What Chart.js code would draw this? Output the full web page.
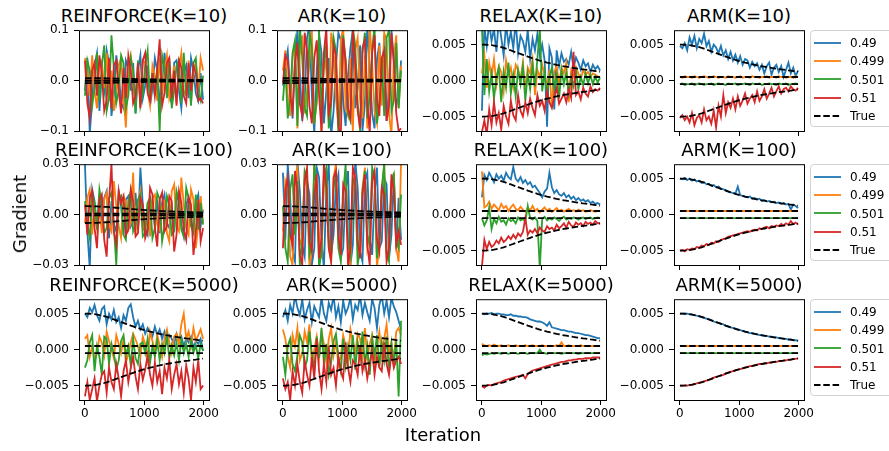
<!DOCTYPE html>
<html><head><meta charset="utf-8">
<script src="https://cdn.jsdelivr.net/npm/chart.js@4.4.1/dist/chart.umd.min.js"></script>
<style>
html,body{margin:0;padding:0;background:#fff;}
body{width:889px;height:451px;overflow:hidden;position:relative;font-family:"DejaVu Sans",sans-serif;color:#000;}
canvas{position:absolute;}
.ttl{position:absolute;font-size:18px;line-height:18px;white-space:nowrap;transform:translateX(-50%);}
.axl{position:absolute;font-size:18px;line-height:18px;white-space:nowrap;}
.leg{position:absolute;box-sizing:border-box;border:1px solid #d3d3d3;border-radius:4px;background:rgba(255,255,255,0.8);}
.lt{position:absolute;font-size:12px;line-height:14px;white-space:nowrap;}
.ls{position:absolute;}
</style>
</head><body>
<script>
// ---------------- data ----------------
const METHODS = ['REINFORCE', 'AR', 'RELAX', 'ARM'];
const KS = [10, 100, 5000];
const SERIES_LABELS = ['0.49', '0.499', '0.501', '0.51'];
const TRUE_LABEL = 'True';
const X_TICKS = [0, 1000, 2000];
const Y_TICKS_K10_WIDE = [-0.1, 0, 0.1];
const Y_TICKS_K100_WIDE = [-0.03, 0, 0.03];
const Y_TICKS_NARROW = [-0.005, 0, 0.005];
const N_POINTS = 50;
const LAST_ITER = 1990;

// true gradients (units of 1e-4)
const TRUE_049 = [50,49.9,49.8,49.6,49.2,48.7,48,47.3,46.4,45.4,44.3,43.1,41.9,40.7,39.4,38.2,37,35.8,34.6,33.3,32.2,31,30,28.9,27.9,27,26,25.1,24.3,23.4,22.7,21.9,21.2,20.5,19.9,19.3,18.7,18.2,17.6,17.1,16.6,16.1,15.6,15.2,14.7,14.2,13.8,13.3,12.9,12.4];
const TRUE_051 = [-50,-49.9,-49.8,-49.6,-49.2,-48.7,-48,-47.3,-46.4,-45.4,-44.3,-43.1,-41.9,-40.7,-39.4,-38.2,-37,-35.8,-34.6,-33.3,-32.2,-31,-30,-28.9,-27.9,-27,-26,-25.1,-24.3,-23.4,-22.7,-21.9,-21.2,-20.5,-19.9,-19.3,-18.7,-18.2,-17.6,-17.1,-16.6,-16.1,-15.6,-15.2,-14.7,-14.2,-13.8,-13.3,-12.9,-12.4];
const TRUE_0499 = 5;
const TRUE_0501 = -5;

// estimates: [0.49, 0.499, 0.501, 0.51]
// units of 1e-3
const REINFORCE_K10 = [
 [-20,45,-105,-40,30,55,-60,10,-20,60, 35,-70,-30,50,15,-45,-55,40,25,-20, 35,-65,20,50,-35,-10,30,-50,-15,45, 20,-40,-25,55,10,-30,-45,35,40,-20, -55,15,30,-35,45,20,-25,-40,15,-38],
 [45,20,-30,50,-20,-55,35,40,-15,55, -40,20,-60,-25,30,45,-35,-93,25,50, 10,-45,15,-30,40,35,-20,-50,30,10, -40,45,-25,20,50,-35,-15,30,-45,25, 55,-20,-30,40,-45,20,35,-25,45,20],
 [-30,40,20,-50,-15,55,-40,30,70,-60, -35,90,25,-45,-20,50,35,-55,-30,45, 20,-65,40,-50,-25,30,60,-40,15,-30, 25,-100,50,25,-35,45,-55,-20,30,40, -45,55,-30,20,-50,35,45,-25,-40,10],
 [40,-45,-75,20,35,-30,50,15,-60,-40, 45,-55,30,40,-20,-65,25,-35,50,20, -45,-30,35,-55,40,55,-25,-40,15,-30, 20,82,-50,-25,35,45,-35,20,-50,40, 25,-30,-45,35,-20,30,15,-40,-35,-45]
];
const AR_K10 = [
 [-10,35,60,-20,-75,40,100,15,-80,-40, 85,110,-30,-105,20,90,55,-85,-20,45, -110,-60,30,95,80,-40,-90,10,65,100, -55,-15,70,-100,-45,110,25,-65,-95,40, 75,-30,90,-80,-10,100,35,-50,-30,40],
 [20,60,-30,-70,45,75,-95,50,90,-65, -20,40,100,-85,-45,70,-110,55,20,-80, 95,65,-35,-90,80,105,-55,-70,45,-100, 60,85,-40,-75,50,-95,110,35,-60,-85, 70,-50,95,80,-65,-110,45,90,-55,30],
 [-40,25,-75,-35,55,80,-90,110,45,-55, -70,95,65,-85,-40,100,-60,30,75,-95, -50,85,60,-110,-35,90,40,-65,-80,105, 70,-45,-100,55,95,-75,-30,60,110,-85, -50,45,-70,85,100,-60,-40,75,-55,20],
 [-5,50,40,-30,-60,35,75,-45,-70,95, 60,-50,-85,45,80,-30,-100,55,105,-65, -40,70,50,-90,-110,85,40,-55,-75,100, 35,-60,-95,65,80,-45,-105,55,90,-35, -70,45,60,-80,-50,95,40,-65,-100,-95]
];
const REINFORCE_K100 = [
 [30,-10,-32,15,8,-8,12,-5,10,14, -14,8,-6,-10,14,5,-12,9,11,-7, -4,13,-9,28,6,-8,-12,10,5,-6, 9,-11,7,12,-5,-8,4,-10,11,8, -6,-13,6,10,-4,-9,7,12,-7,3],
 [-5,10,15,-12,6,-8,4,-11,9,13, -6,-10,20,5,-7,-14,11,8,-9,-5, 25,-12,6,14,-8,-10,7,-13,10,12, -6,-9,5,8,-11,-16,14,18,-7,-10, 22,6,-8,-12,15,9,-20,-6,11,-5],
 [8,-6,-14,12,7,-9,15,6,-11,-8, 10,13,-7,-30,9,11,-12,-15,8,14, -10,-6,9,12,-13,-11,7,10,-14,-8, 13,9,-16,-7,11,6,-12,-10,14,8, -9,-13,16,10,-7,-11,12,-9,7,-6],
 [6,-12,10,14,-8,-20,9,12,-15,-25, 8,30,-10,-18,14,7,11,-12,-9,15, 8,-13,-11,10,6,-14,-9,16,12,-8, -19,9,13,-10,-7,11,8,-22,-12,14, 7,-9,-15,10,6,-24,-11,9,-16,-8]
];
const AR_K100 = [
 [25,-15,30,10,-22,-28,32,14,-18,-25, 20,12,-30,-20,28,22,-16,-32,15,30, -24,-12,18,24,-26,-20,14,26,-30,-18, 32,16,-22,-28,20,25,-14,-24,12,28, -20,-16,22,18,-26,-12,24,-20,10,-15],
 [-10,20,15,-25,-30,22,28,-18,-14,24, 16,-32,-22,30,18,-12,-26,24,14,-20, -28,22,30,-16,-24,12,26,-20,-30,18, 22,-14,-26,16,28,-20,-12,24,20,-32, -18,14,30,-24,-22,16,25,-20,-28,32],
 [5,-20,-28,15,24,-12,20,-30,-16,26, 22,-24,-18,30,14,-32,-22,20,28,-14, -26,16,24,-20,-28,12,30,-16,-24,22, 18,-30,-20,14,26,-12,-18,28,22,-26, -14,16,30,-22,-28,20,24,-16,-20,12],
 [-20,15,22,-12,-18,26,14,-24,-30,20, 28,-16,-22,12,24,-26,-14,30,16,-20, -28,22,26,-12,-24,18,14,-30,-20,28, 22,-16,-26,12,24,-18,-30,20,26,-14, -22,16,12,-28,-20,24,14,-18,-10,-18]
];
// units of 1e-4
const RELAX_K10 = [
 [-42,75,48,80,55,72,40,85,60,35, 78,50,68,45,82,38,62,55,40,70, 30,58,42,65,35,50,28,-64,45,32, -40,42,20,38,26,30,22,40,18,32, 25,15,28,20,24,12,22,16,20,14],
 [10,35,-10,25,5,30,-5,20,12,-15, 28,8,18,-8,22,15,2,25,-12,18, 10,30,-20,15,5,22,8,-10,15,-38, 12,20,-5,18,10,25,-30,14,6,18, 10,2,15,8,12,5,10,8,6,5],
 [75,-20,30,-15,10,-25,5,18,-30,12, -10,25,-18,8,-22,15,-5,20,-28,10, -12,22,-8,30,72,-15,12,-20,5,18, -10,8,-25,15,-5,12,-18,6,-8,14, -12,5,-6,10,-4,8,-5,6,-3,4],
 [-72,-55,-75,-40,-62,-30,-58,-45,-68,-35, -50,-60,-28,-48,-55,-20,-42,-50,-30,-45, -25,-38,-48,-20,-35,-28,-42,-15,-30,-38, -22,-10,-32,-25,-18,-30,-12,-24,40,-20, -15,-26,-10,-18,-22,-8,-16,-12,-14,-10]
];
const ARM_K10 = [
 [48,45,52,42,60,50,62,45,58,52, 65,48,55,40,50,46,38,48,35,42, 30,40,28,36,25,34,22,30,28,18, 26,20,24,15,22,10,20,25,8,18, 22,12,20,5,15,25,10,18,6,14],
 [5,4,6,5,5,4,6,5,4,5, 6,5,4,5,6,5,4,5,5,4, 6,5,5,4,5,6,4,5,5,4, 6,5,5,4,5,5,6,4,5,5, 4,6,5,5,4,5,5,4,6,5],
 [-5,-4,-6,-5,-5,-4,-6,-5,-4,-5, -6,-5,-5,-4,-6,-5,-4,-5,-5,-6, -4,-5,-5,-4,-6,-5,-5,-4,-5,-6, -4,-5,-5,-4,-6,-5,-5,-4,-5,-5, -6,-4,-5,-5,-4,-6,-5,-5,-4,-5],
 [-52,-48,-55,-50,-58,-45,-62,-52,-48,-58, -40,-55,-50,-60,-42,-65,-35,-50,-20,-45, -30,-38,-25,-40,-22,-35,-28,-18,-32,-25, -20,-30,-15,-28,-22,-12,-25,-18,-10,-22, -15,-8,-18,-12,-10,-15,-8,-12,-14,-10]
];
const RELAX_K100 = [
 [24,55,48,58,52,45,56,50,54,47, 58,52,49,66,50,46,52,44,48,42, 45,38,40,35,30,24,32,36,58,38, 30,34,28,26,30,24,27,22,25,20, 23,19,21,18,20,16,18,15,16,14],
 [60,10,12,18,8,14,10,6,15,9, 12,5,10,14,8,6,11,7,4,9, 6,12,5,8,3,7,10,5,8,4, 6,9,5,7,4,6,8,5,6,4, 7,5,6,4,5,6,5,4,5,5],
 [-5,-15,-8,10,-20,-6,-12,-3,-10,-8, -14,-5,-9,-7,-12,-4,-8,-6,-10,12, -5,-7,-4,-9,-75,-6,-3,-8,-5,-7, -4,-6,-9,-5,-3,-7,-5,-6,-4,-5, -7,-5,-4,-6,-5,-4,-6,-5,-4,-5],
 [-72,-35,-48,-38,-45,-42,-36,-40,-32,-38, -35,-30,-34,-28,-33,-26,-30,-24,-5,-28, -22,-25,-20,-26,-18,-22,-24,-16,-20,-18, -22,-14,-19,-16,-12,-18,-10,-15,-17,-11, -14,-12,-16,-10,-13,-11,-14,-9,-12,-12]
];
const ARM_K100 = [
 [50,49,51,48,50,47,49,46,47,44, 45,42,43,40,41,38,39,36,35,34, 32,31,30,29,39,27,26,25,24,25, 22,23,21,22,19,20,18,19,17,18, 16,17,15,16,14,15,7,14,12,9],
 [5,5,5,5,5,5,5,5,5,5, 5,5,5,5,5,5,5,5,5,5, 5,5,5,5,5,5,5,5,5,5, 5,5,5,5,5,5,5,5,5,5, 5,5,5,5,5,5,5,5,5,5],
 [-5,-5,-5,-5,-5,-5,-5,-5,-5,-5, -5,-5,-5,-5,-5,-5,-5,-5,-5,-5, -5,-5,-5,-5,-5,-5,-5,-5,-5,-5, -5,-5,-5,-5,-5,-5,-5,-5,-5,-5, -5,-5,-5,-5,-5,-5,-5,-5,-5,-5],
 [-50,-49,-51,-48,-49,-47,-48,-45,-46,-43, -44,-41,-42,-39,-40,-37,-38,-35,-34,-33, -31,-30,-29,-28,-27,-26,-25,-24,-23,-24, -22,-21,-22,-19,-20,-18,-17,-19,-16,-17, -15,-16,-13,-15,-12,-14,-9,-13,-11,-14]
];
const REINFORCE_K5000 = [
 [50,45,58,52,62,48,40,56,60,35, 50,42,55,38,45,30,48,40,58,63, 45,32,40,28,35,22,30,25,18,32, 20,28,15,25,10,20,15,8,22,12, 18,5,15,10,18,2,12,8,15,-2],
 [15,20,-10,5,-15,-5,18,10,-8,25, 12,0,-12,20,8,-5,15,-18,-6,10, 22,14,5,-10,18,8,-14,25,12,-4, 20,6,-10,15,28,10,-5,18,22,8, 35,50,15,25,5,30,12,20,28,15],
 [-25,-15,10,20,-30,5,-10,-35,18,15, -20,8,-5,-28,-15,12,20,-8,5,-22, 15,-12,-20,8,10,-5,15,-18,5,-10, 12,-15,8,-5,18,-12,6,-8,10,-15, 14,-5,8,-10,12,-4,6,-12,8,-2],
 [-65,-45,-70,-55,-40,-72,-50,-35,-30,-60, -25,-45,-55,-20,-40,-65,-30,-15,-45,-25, -10,-38,-55,-20,-42,-28,-8,-35,-50,-18, -45,-30,-62,-25,-40,-15,-55,-35,-20,-48, -30,-60,-22,-40,-70,-25,-45,-15,-55,-50]
];
const AR_K5000 = [
 [45,55,40,62,50,75,58,48,70,42, 55,65,38,60,52,45,72,50,40,65, 55,75,45,60,38,68,50,58,72,42, 62,55,75,48,65,52,40,70,58,30, 62,75,50,68,45,72,60,52,40,28],
 [28,15,-10,-25,20,5,30,-15,-5,25, 10,35,-20,0,18,-12,25,8,-18,15, 30,-8,12,-22,-10,20,5,-15,28,10, -5,22,15,-10,30,-12,8,20,-18,5, 25,-8,15,35,-5,10,-15,25,30,20],
 [-10,-35,5,15,-20,-30,-8,20,10,-25, -15,25,-5,-28,18,-12,30,-20,8,-35, -18,12,22,-10,-30,15,-22,5,-15,20, -28,10,-12,25,-20,5,-35,15,-8,20, -25,10,-15,18,-30,8,-20,12,-65,40],
 [-40,-55,-45,-70,-30,-50,-20,-45,-60,-15, -35,-50,-10,-40,15,-30,-55,-20,-45,5, -35,-25,-50,-10,-30,-40,10,-25,-45,-15, -20,-35,5,-30,-15,-40,-20,0,-35,-10, -25,-30,10,-20,-35,-5,-25,-15,-10,-20]
];
const RELAX_K5000 = [
 [50,49,50,50,51,49,50,50,49,49, 48,48,49,47,47,46,46,45,45,44, 42,41,40,39,39,38,36,33,38,31, 30,29,28,27,27,26,25,25,24,23, 23,22,21,20,20,19,18,17,16,16],
 [8,6,5,6,5,7,5,5,6,5, 5,6,5,5,6,5,5,5,6,5, 5,6,5,5,5,6,5,5,5,5, 5,6,5,10,5,5,6,5,5,5, 5,6,5,5,5,5,5,5,5,5],
 [-8,-6,-7,-6,-5,-6,-5,-5,-6,-5, -5,-6,-5,-5,-5,-6,-5,-5,-5,-6, -5,-5,-5,-5,0,-5,-5,-6,-5,-5, -5,-5,-5,-6,-5,-5,-5,-5,-5,-5, -6,-5,-5,-5,-5,-5,-5,-5,-5,-5],
 [-51,-53,-50,-49,-50,-48,-47,-46,-45,-43, -42,-41,-40,-39,-38,-37,-36,-35,-40,-34, -31,-29,-28,-27,-26,-25,-24,-23,-22,-21, -20,-19,-18,-17,-17,-16,-15,-15,-14,-14, -13,-13,-13,-12,-12,-12,-11,-11,-11,-11]
];
const ARM_K5000 = [
 [50,50,50,50,49,49,48,47,46,45, 44,43,42,41,39,38,37,36,35,33, 32,31,30,29,28,27,26,25,24,23, 23,22,21,20,20,19,19,18,18,17, 17,16,16,15,15,14,14,13,13,12],
 [5,5,5,5,5,5,5,5,5,5, 5,5,5,5,5,5,5,5,5,5, 5,5,5,5,5,5,5,5,5,5, 5,5,5,5,5,5,5,5,5,5, 5,5,5,5,5,5,5,5,5,5],
 [-5,-5,-5,-5,-5,-5,-5,-5,-5,-5, -5,-5,-5,-5,-5,-5,-5,-5,-5,-5, -5,-5,-5,-5,-5,-5,-5,-5,-5,-5, -5,-5,-5,-5,-5,-5,-5,-5,-5,-5, -5,-5,-5,-5,-5,-5,-5,-5,-5,-5],
 [-50,-50,-50,-50,-49,-49,-48,-47,-46,-45, -44,-43,-42,-41,-39,-38,-37,-36,-35,-33, -32,-31,-30,-29,-28,-27,-26,-25,-24,-23, -23,-22,-21,-20,-20,-19,-19,-18,-18,-17, -17,-16,-16,-15,-15,-14,-14,-13,-13,-12]
];

const PANEL_DATA = [
  REINFORCE_K10, AR_K10, RELAX_K10, ARM_K10,
  REINFORCE_K100, AR_K100, RELAX_K100, ARM_K100,
  REINFORCE_K5000, AR_K5000, RELAX_K5000, ARM_K5000
];
const PANEL_UNIT = [1e-3,1e-3,1e-4,1e-4, 1e-3,1e-3,1e-4,1e-4, 1e-4,1e-4,1e-4,1e-4];
const PANEL_YTICKS = [
  Y_TICKS_K10_WIDE, Y_TICKS_K10_WIDE, Y_TICKS_NARROW, Y_TICKS_NARROW,
  Y_TICKS_K100_WIDE, Y_TICKS_K100_WIDE, Y_TICKS_NARROW, Y_TICKS_NARROW,
  Y_TICKS_NARROW, Y_TICKS_NARROW, Y_TICKS_NARROW, Y_TICKS_NARROW
];
const PANEL_YLIM = [0.1,0.1,0.007,0.007, 0.03,0.03,0.007,0.007, 0.007,0.007,0.007,0.007];
const PANEL_DECIMALS = [1,1,3,3, 2,2,3,3, 3,3,3,3];

// ---------------- layout & style ----------------
const COLORS = ['#1f77b4', '#ff7f0e', '#2ca02c', '#d62728'];
const FONT = '"DejaVu Sans", sans-serif';
const PLOT_LEFT = [79, 277, 476, 674];
const PLOT_TOP = [28, 162, 297];
const PLOT_W = 130, PLOT_H = 103;
const AX_W = 60, PAD_T = 10, PAD_R = 22, AX_H = 30;
const LW = 1.8, DASH = [6.5, 2.8];

const ITERATIONS = Array.from({length: N_POINTS}, (_, i) => Math.round(i * LAST_ITER / (N_POINTS - 1)));

function fmt(v, d) {
  const s = Math.abs(v).toFixed(d);
  return (v < 0 ? '\u2212' : '') + s;
}

const framePlugin = {
  id: 'frame',
  afterDraw(chart) {
    const {ctx, chartArea: a} = chart;
    ctx.save();
    ctx.strokeStyle = '#000';
    ctx.lineWidth = 1;
    ctx.strokeRect(a.left + 0.5, a.top + 0.5, a.right - a.left, a.bottom - a.top);
    ctx.restore();
  }
};

function pts(vals, unit) { return vals.map((v, i) => ({x: ITERATIONS[i], y: v * unit})); }

function addText(cls, text, left, top, extra) {
  const d = document.createElement('div');
  d.className = cls;
  d.textContent = text;
  d.style.left = left + 'px';
  d.style.top = top + 'px';
  if (extra) Object.assign(d.style, extra);
  document.body.appendChild(d);
  return d;
}

for (let r = 0; r < 3; r++) {
  for (let c = 0; c < 4; c++) {
    const p = r * 4 + c;
    const L = PLOT_LEFT[c], T = PLOT_TOP[r];
    addText('ttl', METHODS[c] + '(K=' + KS[r] + ')', L + PLOT_W / 2, T - 21);
    const cv = document.createElement('canvas');
    const W = AX_W + PLOT_W + PAD_R, H = PAD_T + PLOT_H + AX_H;
    cv.width = W; cv.height = H;
    cv.style.left = (L - AX_W) + 'px';
    cv.style.top = (T - PAD_T) + 'px';
    cv.style.width = W + 'px'; cv.style.height = H + 'px';
    document.body.appendChild(cv);

    const unit = PANEL_UNIT[p];
    const series = PANEL_DATA[p];
    const datasets = [];
    const first = ITERATIONS[0], last = ITERATIONS[N_POINTS - 1];
    const trueSets = [
      pts(TRUE_049, 1e-4),
      [{x: first, y: TRUE_0499 * 1e-4}, {x: last, y: TRUE_0499 * 1e-4}],
      [{x: first, y: TRUE_0501 * 1e-4}, {x: last, y: TRUE_0501 * 1e-4}],
      pts(TRUE_051, 1e-4)
    ];
    trueSets.forEach(d => datasets.push({
      label: TRUE_LABEL, data: d, borderColor: '#000', borderWidth: LW, borderDash: DASH,
      pointRadius: 0, fill: false, tension: 0, order: 0, clip: 0
    }));
    for (let s = 0; s < 4; s++) {
      datasets.push({
        label: SERIES_LABELS[s], data: pts(series[s], unit), borderColor: COLORS[s],
        borderWidth: LW, pointRadius: 0, fill: false, tension: 0, order: 4 - s, clip: 0
      });
    }
    const yt = PANEL_YTICKS[p], dec = PANEL_DECIMALS[p], lim = PANEL_YLIM[p];
    new Chart(cv, {
      type: 'line',
      data: {datasets},
      options: {
        responsive: false, animation: false, devicePixelRatio: 1,
        layout: {padding: {left: 0, top: PAD_T, right: PAD_R, bottom: 0}},
        plugins: {legend: {display: false}, tooltip: {enabled: false}, title: {display: false}},
        events: [],
        scales: {
          x: {
            type: 'linear', min: -100, max: 2090,
            afterFit: s => { s.height = AX_H; },
            afterBuildTicks: s => { s.ticks = X_TICKS.map(v => ({value: v})); },
            ticks: {
              callback: r === 2 ? (v => String(v)) : (() => ''),
              font: {family: FONT, size: 12}, color: '#000', padding: 2,
              maxRotation: 0, minRotation: 0, autoSkip: false
            },
            grid: {drawOnChartArea: false, drawTicks: true, tickLength: 5, color: '#000', lineWidth: 1},
            border: {display: false}
          },
          y: {
            type: 'linear', min: -lim, max: lim,
            afterFit: s => { s.width = AX_W; },
            afterBuildTicks: s => { s.ticks = yt.map(v => ({value: v})); },
            ticks: {
              callback: v => fmt(v, dec),
              font: {family: FONT, size: 12}, color: '#000', padding: 5, autoSkip: false
            },
            grid: {drawOnChartArea: false, drawTicks: true, tickLength: 5, color: '#000', lineWidth: 1},
            border: {display: false}
          }
        }
      },
      plugins: [framePlugin]
    });
  }
  const T = PLOT_TOP[r];
  const leg = document.createElement('div');
  leg.className = 'leg';
  Object.assign(leg.style, {left: '810px', top: (T + 2) + 'px', width: '100px', height: '97px'});
  document.body.appendChild(leg);
  const labels = SERIES_LABELS.concat([TRUE_LABEL]);
  labels.forEach((lab, k) => {
    const cy = T + 14.7 + k * 18.3;
    const svgNS = 'http://www.w3.org/2000/svg';
    const svg = document.createElementNS(svgNS, 'svg');
    svg.setAttribute('class', 'ls');
    svg.setAttribute('width', '30'); svg.setAttribute('height', '6');
    svg.style.left = '813px'; svg.style.top = (cy - 3) + 'px';
    const ln = document.createElementNS(svgNS, 'line');
    ln.setAttribute('x1', '1'); ln.setAttribute('x2', '28');
    ln.setAttribute('y1', '3'); ln.setAttribute('y2', '3');
    ln.setAttribute('stroke', k < 4 ? COLORS[k] : '#000');
    ln.setAttribute('stroke-width', String(LW));
    if (k === 4) ln.setAttribute('stroke-dasharray', DASH.join(' '));
    svg.appendChild(ln);
    document.body.appendChild(svg);
    addText('lt', lab, 850, cy - 6.7);
  });
}

addText('axl', 'Gradient', 20, 214, {transform: 'translate(-50%,-50%) rotate(-90deg)'});
addText('axl', 'Iteration', 443, 426, {transform: 'translateX(-50%)'});
</script>
</body></html>
